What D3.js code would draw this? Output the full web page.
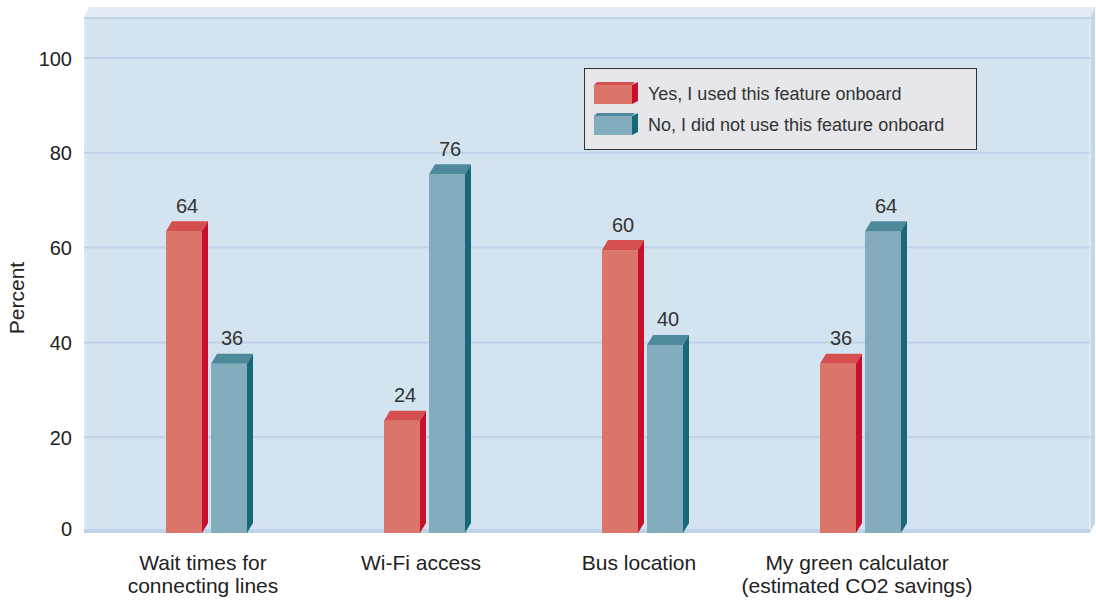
<!DOCTYPE html>
<html>
<head>
<meta charset="utf-8">
<script src="https://cdn.jsdelivr.net/npm/d3@7"></script>
<style>
  body { margin: 0; background: #fff; }
  svg { display: block; font-family: "Liberation Sans", Arial, sans-serif; }
</style>
</head>
<body>
<svg width="1096" height="602"></svg>
<script>
// chart data
var categories = [["Wait times for", "connecting lines"], ["Wi-Fi access"], ["Bus location"], ["My green calculator", "(estimated CO2 savings)"]];
var seriesNames = ["Yes, I used this feature onboard", "No, I did not use this feature onboard"];
var yesValues = [64, 24, 60, 36];
var noValues = [36, 76, 40, 64];
var yTicks = [0, 20, 40, 60, 80, 100];

var svg = d3.select("svg");
var dx = 6, dy = 10; // depth of the 3d boxes
var lift = 2.5;

var colors = [
  {front: "#dc7569", top: "#d54f4f", side: "#c8102e"},
  {front: "#83adbd", top: "#4f8a9c", side: "#17697a"}
];

var catKeys = categories.map(function(c) { return c.join(" "); });

var x0 = d3.scaleBand().domain(catKeys).range([97, 969]);
var x1 = d3.scaleBand().domain([0, 1]).range([-40, 41]).paddingInner(0.2);
var y = d3.scaleLinear().domain([0, 100]).range([532, 58]);

// wall box
var wall = {x0: 84, x1: 1090, top: 17, bottom: 533};
svg.append("polygon")
    .attr("points", [[wall.x0, wall.top], [wall.x0 + 5, wall.top - 10], [wall.x1 + 5, wall.top - 10], [wall.x1, wall.top]].join(" "))
    .attr("fill", "#e3ecf5");
svg.append("polygon")
    .attr("points", [[wall.x1, wall.top], [wall.x1 + 5, wall.top - 10], [wall.x1 + 5, wall.bottom - 10], [wall.x1, wall.bottom]].join(" "))
    .attr("fill", "#c4d8ea");
svg.append("rect")
    .attr("x", wall.x0).attr("y", wall.top)
    .attr("width", wall.x1 - wall.x0).attr("height", wall.bottom - wall.top)
    .attr("fill", "#d4e3f0");
svg.append("rect")
    .attr("x", wall.x0).attr("y", wall.top)
    .attr("width", 3).attr("height", wall.bottom - wall.top)
    .attr("fill", "#dde8f3");
svg.append("line")
    .attr("x1", wall.x1).attr("x2", wall.x1)
    .attr("y1", wall.top).attr("y2", wall.bottom)
    .attr("stroke", "#f2f6fa").attr("stroke-width", 1);
svg.append("line")
    .attr("x1", wall.x0).attr("x2", wall.x1)
    .attr("y1", wall.top + 1).attr("y2", wall.top + 1)
    .attr("stroke", "#bcd3e7").attr("stroke-width", 2);
svg.append("rect")
    .attr("x", wall.x0).attr("y", wall.bottom - 4)
    .attr("width", wall.x1 - wall.x0).attr("height", 4)
    .attr("fill", "#bfd4e8");

// gridlines
svg.append("g").selectAll("line")
    .data(yTicks.slice(1))
    .enter().append("line")
    .attr("x1", wall.x0).attr("x2", wall.x1)
    .attr("y1", function(d) { return y(d); })
    .attr("y2", function(d) { return y(d); })
    .attr("stroke", "#bcd3e7").attr("stroke-width", 2);

// y axis
var yAxis = svg.append("g")
    .attr("transform", "translate(80,0)")
    .call(d3.axisLeft(y).tickValues(yTicks).tickSize(0).tickPadding(8));
yAxis.select(".domain").remove();
yAxis.selectAll("text")
    .attr("font-size", 20)
    .attr("fill", "#222")
    .attr("font-family", "Liberation Sans, Arial, sans-serif")
    .attr("dy", function(d) { return d === 0 ? "0.15em" : "0.35em"; });

svg.append("text")
    .attr("transform", "translate(24,298) rotate(-90)")
    .attr("text-anchor", "middle")
    .attr("font-size", 21)
    .attr("fill", "#222")
    .text("Percent");

// bars
var rows = [];
catKeys.forEach(function(k, i) {
  rows.push({cat: k, s: 0, v: yesValues[i]});
  rows.push({cat: k, s: 1, v: noValues[i]});
});

var bar = svg.append("g").selectAll("g")
    .data(rows)
    .enter().append("g");

function bx(d) { return x0(d.cat) + x0.bandwidth() / 2 + x1(d.s); }
var bw = x1.bandwidth();
var base = 533;

bar.append("rect")
    .attr("x", bx)
    .attr("y", function(d) { return y(d.v) + lift; })
    .attr("width", bw)
    .attr("height", function(d) { return base - y(d.v) - lift; })
    .attr("fill", function(d) { return colors[d.s].front; });

bar.append("polygon")
    .attr("points", function(d) {
      var l = bx(d), t = y(d.v) + lift;
      return [[l, t], [l + dx, t - dy], [l + bw + dx, t - dy], [l + bw, t]].join(" ");
    })
    .attr("fill", function(d) { return colors[d.s].top; });

bar.append("polygon")
    .attr("points", function(d) {
      var r = bx(d) + bw, t = y(d.v) + lift;
      return [[r, t], [r + dx, t - dy], [r + dx, base - dy], [r, base]].join(" ");
    })
    .attr("fill", function(d) { return colors[d.s].side; });

bar.append("text")
    .attr("x", function(d) { return bx(d) + (bw + dx) / 2; })
    .attr("y", function(d) { return y(d.v) - 16; })
    .attr("text-anchor", "middle")
    .attr("font-size", 20)
    .attr("fill", "#333")
    .text(function(d) { return d.v; });

// category labels
var cat = svg.append("g").selectAll("text")
    .data(categories)
    .enter().append("text")
    .attr("text-anchor", "middle")
    .attr("font-size", 21)
    .attr("fill", "#222")
    .attr("x", function(d, i) { return x0(catKeys[i]) + x0.bandwidth() / 2 - 3; })
    .attr("y", 570);
cat.selectAll("tspan")
    .data(function(d) { return d; })
    .enter().append("tspan")
    .attr("x", function() { return d3.select(this.parentNode).attr("x"); })
    .attr("dy", function(d, i) { return i === 0 ? 0 : 23; })
    .text(function(d) { return d; });

// legend
var legend = svg.append("g");
legend.append("rect")
    .attr("x", 584.5).attr("y", 68.5)
    .attr("width", 392).attr("height", 81)
    .attr("fill", "#e6e7ea")
    .attr("stroke", "#333").attr("stroke-width", 1);

var item = legend.selectAll("g")
    .data(seriesNames)
    .enter().append("g")
    .attr("transform", function(d, i) { return "translate(594," + (85 + i * 31) + ")"; });
item.append("rect")
    .attr("width", 38).attr("height", 19)
    .attr("fill", function(d, i) { return colors[i].front; });
item.append("polygon")
    .attr("points", "0,0 3,-3 41,-3 38,0")
    .attr("fill", function(d, i) { return colors[i].top; });
item.append("polygon")
    .attr("points", "38,0 44,-3 44,16 38,19")
    .attr("fill", function(d, i) { return colors[i].side; });
item.append("text")
    .attr("x", 54).attr("y", 15)
    .attr("font-size", 18)
    .attr("fill", "#333")
    .text(function(d) { return d; });
</script>
</body>
</html>
